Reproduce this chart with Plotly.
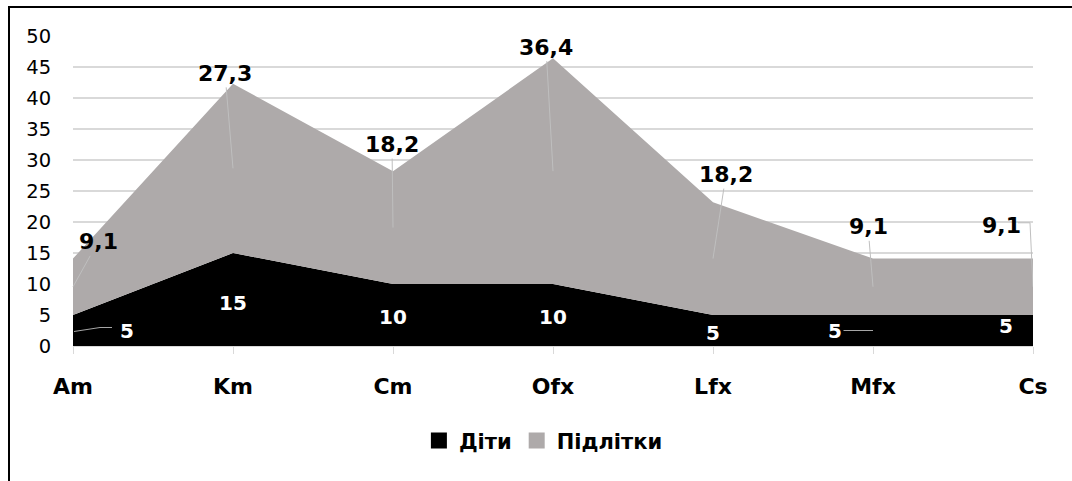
import plotly.graph_objects as go

categories = ["Am", "Km", "Cm", "Ofx", "Lfx", "Mfx", "Cs"]
children = [5, 15, 10, 10, 5, 5, 5]
teens = [9.1, 27.3, 18.2, 36.4, 18.2, 9.1, 9.1]
y_ticks = [0, 5, 10, 15, 20, 25, 30, 35, 40, 45, 50]

FONT = "DejaVu Sans"
BLACK = "#000000"
GREY = "#aeaaaa"
GRID = "#d9d9d9"
LEADER = "#bfbfbf"
LEADER_DARK = "#a6a6a6"

x_idx = list(range(len(categories)))

fig = go.Figure()
fig.add_trace(go.Scatter(
    x=x_idx, y=children, stackgroup="one", mode="none",
    fillcolor=BLACK, name="Діти", showlegend=False, hoverinfo="skip"))
fig.add_trace(go.Scatter(
    x=x_idx, y=teens, stackgroup="one", mode="none",
    fillcolor=GREY, name="Підлітки", showlegend=False, hoverinfo="skip"))

# legend entries drawn as square swatches
for name, col in (("Діти", BLACK), ("Підлітки", GREY)):
    fig.add_trace(go.Scatter(
        x=[None], y=[None], mode="markers", name=name,
        marker=dict(symbol="square", size=16, color=col)))

def fmt(v):
    return (f"{v:g}").replace(".", ",")

# label offsets in pixels (ax, ay, straight leader shown)
teen_off = [(25, -45, True), (-8, -95, True), (-1, -83, True), (-7, -124, True),
            (13, -84, True), (-5, -60, True), (-32, -61, False)]
child_off = [(54, 0, False), (0, 3, False), (0, 2, False), (0, 2, False),
             (0, 2, False), (-38, 0, True), (-27, -5, False)]

annotations = []
for i, (c, t) in enumerate(zip(children, teens)):
    ax, ay, lead = teen_off[i]
    annotations.append(dict(
        x=i, y=c + t / 2, xref="x", yref="y", text=fmt(t),
        showarrow=True, arrowhead=0, arrowwidth=1, standoff=0,
        arrowcolor=LEADER if lead else "rgba(0,0,0,0)",
        ax=ax, ay=ay, axref="pixel", ayref="pixel",
        font=dict(family=FONT, size=22, color=BLACK, weight="bold")))
    ax, ay, lead = child_off[i]
    annotations.append(dict(
        x=i, y=c / 2, xref="x", yref="y", text=fmt(c),
        showarrow=True, arrowhead=0, arrowwidth=1, standoff=0,
        arrowcolor=LEADER_DARK if lead else "rgba(0,0,0,0)",
        ax=ax, ay=ay, axref="pixel", ayref="pixel",
        font=dict(family=FONT, size=20, color="#ffffff", weight="bold")))


def elbow(xa, ya, pts, color):
    """Polyline leader anchored at a data point, with pixel offsets."""
    out = []
    for (x0, y0), (x1, y1) in zip(pts[:-1], pts[1:]):
        out.append(dict(type="line", xref="x", yref="y",
                        xsizemode="pixel", ysizemode="pixel",
                        xanchor=xa, yanchor=ya, x0=x0, x1=x1, y0=y0, y1=y1,
                        line=dict(color=color, width=1)))
    return out


last = len(categories) - 1
shapes = []
# elbow leader for the last grey label
shapes += elbow(last, children[last] + teens[last] / 2,
                [(0, 0), (-3, 64), (-15, 64)], LEADER)
# elbow leader for the first black label
shapes += elbow(0, children[0] / 2,
                [(1, -1), (27, 3), (39, 3)], LEADER_DARK)
# outer frame (top and left edges)
shapes += [
    dict(type="line", xref="paper", yref="paper", xsizemode="pixel", ysizemode="pixel",
         xanchor=0, yanchor=1, x0=-65, x1=1000, y0=29, y1=29,
         line=dict(color=BLACK, width=2), layer="above"),
    dict(type="line", xref="paper", yref="paper", xsizemode="pixel", ysizemode="pixel",
         xanchor=0, yanchor=1, x0=-64, x1=-64, y0=30, y1=-480,
         line=dict(color=BLACK, width=2), layer="above"),
]

fig.update_layout(
    width=1072, height=481,
    margin=dict(l=73, r=39, t=36, b=135),
    paper_bgcolor="#ffffff", plot_bgcolor="#ffffff",
    font=dict(family=FONT, color=BLACK),
    showlegend=True,
    legend=dict(orientation="h", x=0.49, xanchor="center", y=-0.306, yanchor="middle",
                traceorder="normal",
                font=dict(family=FONT, size=21, color=BLACK, weight="bold"),
                itemclick=False, itemdoubleclick=False, bgcolor="rgba(0,0,0,0)"),
    annotations=annotations, shapes=shapes,
    hovermode=False,
)
fig.update_xaxes(
    range=[0, last], tickmode="array", tickvals=x_idx, ticktext=categories,
    showgrid=False, zeroline=False, showline=True, linecolor=GRID, linewidth=1,
    ticks="outside", ticklen=7, tickcolor=GRID, tickwidth=1,
    ticklabelstandoff=14,
    tickfont=dict(family=FONT, size=22, color=BLACK, weight="bold"),
    fixedrange=True)
fig.update_yaxes(
    range=[0, 50], tickmode="array", tickvals=y_ticks,
    showgrid=True, gridcolor=GRID, gridwidth=1.5, zeroline=False, showline=False,
    ticks="outside", ticklen=17, tickcolor="rgba(0,0,0,0)",
    tickfont=dict(family=FONT, size=19.5, color=BLACK),
    fixedrange=True)

fig.write_html("out.html", config={"displayModeBar": False, "staticPlot": True})
